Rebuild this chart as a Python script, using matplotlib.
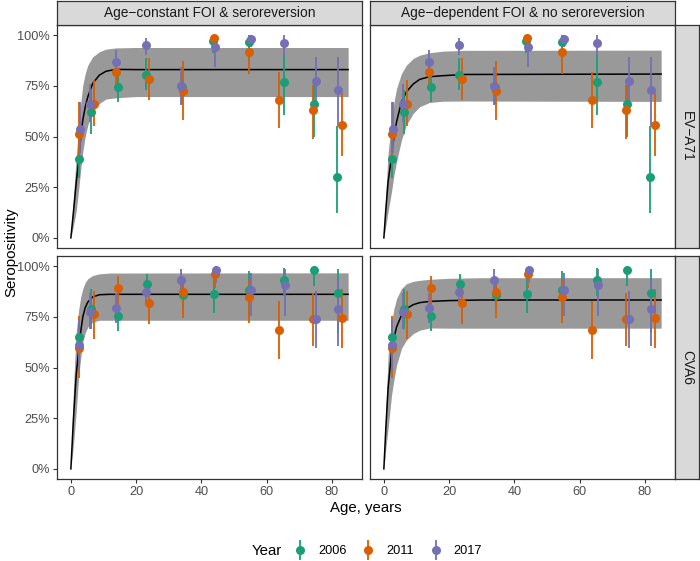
import numpy as np
import matplotlib
matplotlib.use("Agg")
import matplotlib.pyplot as plt
from matplotlib.lines import Line2D
from matplotlib.legend_handler import HandlerTuple
from matplotlib.ticker import FuncFormatter

plt.rcParams['font.family'] = ['Liberation Sans', 'DejaVu Sans']

years = ["2006", "2011", "2017"]
colors = ["#1B9E77", "#D95F02", "#7570B3"]
models = ["Age\u2212constant FOI & seroreversion", "Age\u2212dependent FOI & no seroreversion"]
viruses = ["EV\u2212A71", "CVA6"]

# observed seroprevalence: mean age, estimate, 95% CI (per year)
eva71_age = {
    "2006": [2.5, 6.1, 14.5, 23.1, 34.1, 43.5, 54.5, 65.3, 74.5, 81.7],
    "2011": [2.5, 7.1, 13.9, 23.9, 34.3, 43.8, 54.7, 63.8, 74.3, 83.0],
    "2017": [2.8, 5.9, 13.9, 23.1, 33.9, 44.3, 55.2, 65.4, 75.0, 81.9],
}
eva71_est = {
    "2006": [0.389, 0.62, 0.743, 0.803, 0.743, 0.97, 0.967, 0.767, 0.66, 0.298],
    "2011": [0.511, 0.66, 0.82, 0.784, 0.726, 0.984, 0.915, 0.68, 0.631, 0.557],
    "2017": [0.538, 0.66, 0.866, 0.951, 0.749, 0.943, 0.979, 0.962, 0.774, 0.73],
}
eva71_lo = {
    "2006": [0.295, 0.51, 0.672, 0.73, 0.66, 0.91, 0.877, 0.607, 0.50, 0.123],
    "2011": [0.41, 0.55, 0.754, 0.68, 0.58, 0.94, 0.81, 0.541, 0.49, 0.402],
    "2017": [0.42, 0.57, 0.795, 0.90, 0.656, 0.844, 0.94, 0.90, 0.648, 0.55],
}
eva71_hi = {
    "2006": [0.48, 0.73, 0.80, 0.885, 0.82, 1.0, 1.0, 0.90, 0.78, 0.55],
    "2011": [0.67, 0.78, 0.885, 0.885, 0.87, 1.0, 0.97, 0.82, 0.754, 0.713],
    "2017": [0.67, 0.76, 0.926, 0.984, 0.844, 0.99, 1.0, 1.0, 0.893, 0.893],
}

cva6_age = {
    "2006": [2.6, 6.1, 14.6, 23.2, 34.3, 43.8, 54.5, 65.4, 74.6, 81.8],
    "2011": [2.6, 7.1, 14.3, 24.0, 34.3, 44.1, 54.7, 63.7, 74.1, 83.1],
    "2017": [2.6, 5.9, 13.9, 23.1, 33.8, 44.5, 55.3, 65.5, 75.2, 82.0],
}
cva6_est = {
    "2006": [0.648, 0.787, 0.754, 0.913, 0.857, 0.864, 0.882, 0.931, 0.979, 0.869],
    "2011": [0.595, 0.762, 0.893, 0.82, 0.872, 0.959, 0.849, 0.684, 0.741, 0.746],
    "2017": [0.611, 0.774, 0.795, 0.874, 0.931, 0.979, 0.88, 0.907, 0.741, 0.79],
}
cva6_lo = {
    "2006": [0.59, 0.69, 0.68, 0.852, 0.80, 0.77, 0.762, 0.852, 0.90, 0.672],
    "2011": [0.45, 0.64, 0.81, 0.713, 0.746, 0.893, 0.72, 0.541, 0.607, 0.598],
    "2017": [0.49, 0.69, 0.72, 0.811, 0.877, 0.918, 0.754, 0.754, 0.598, 0.607],
}
cva6_hi = {
    "2006": [0.74, 0.885, 0.828, 0.962, 0.918, 0.951, 0.975, 0.99, 1.0, 0.984],
    "2011": [0.754, 0.877, 0.951, 0.90, 0.943, 0.99, 0.934, 0.828, 0.869, 0.885],
    "2017": [0.74, 0.869, 0.869, 0.934, 0.984, 1.0, 0.967, 0.984, 0.877, 0.934],
}

# fitted curves (age, fit, lower, upper)
eva71_const_age = [0, 0.8, 1.63, 2.44, 3.05, 3.66, 4.4, 5.2, 6.7, 8.75, 10.8, 13.8, 20, 85]
eva71_const_fit = [0, 0.13, 0.27, 0.39, 0.50, 0.581, 0.645, 0.696, 0.762, 0.803, 0.822, 0.831, 0.83, 0.83]
eva71_const_lo = [0, 0.06, 0.13, 0.246, 0.34, 0.425, 0.50, 0.557, 0.622, 0.663, 0.685, 0.691, 0.697, 0.697]
eva71_const_hi = [0, 0.20, 0.40, 0.556, 0.67, 0.754, 0.81, 0.852, 0.893, 0.918, 0.931, 0.937, 0.939, 0.939]

eva71_agedep_age = [0, 0.6, 1.3, 2.35, 3.1, 3.9, 5.4, 6.9, 9.0, 11.0, 14.0, 18.1, 25, 85]
eva71_agedep_fit = [0, 0.14, 0.277, 0.40, 0.50, 0.573, 0.671, 0.72, 0.759, 0.782, 0.795, 0.80, 0.806, 0.808]
eva71_agedep_lo = [0, 0.06, 0.13, 0.228, 0.31, 0.376, 0.483, 0.557, 0.614, 0.647, 0.668, 0.674, 0.675, 0.673]
eva71_agedep_hi = [0, 0.22, 0.42, 0.573, 0.67, 0.737, 0.811, 0.852, 0.885, 0.901, 0.913, 0.921, 0.925, 0.926]

cva6_const_age = [0, 0.8, 1.63, 2.44, 3.05, 3.66, 4.4, 5.2, 6.7, 8.75, 12, 85]
cva6_const_fit = [0, 0.25, 0.462, 0.594, 0.68, 0.75, 0.795, 0.823, 0.848, 0.859, 0.861, 0.861]
cva6_const_lo = [0, 0.12, 0.28, 0.462, 0.55, 0.626, 0.67, 0.70, 0.724, 0.733, 0.733, 0.733]
cva6_const_hi = [0, 0.40, 0.675, 0.79, 0.85, 0.889, 0.92, 0.938, 0.954, 0.962, 0.966, 0.967]

cva6_agedep_age = [0, 0.6, 1.3, 2.35, 3.1, 3.9, 5.4, 6.9, 9.0, 11.0, 14.0, 20, 30, 85]
cva6_agedep_fit = [0, 0.2, 0.397, 0.577, 0.645, 0.70, 0.758, 0.79, 0.81, 0.82, 0.826, 0.83, 0.833, 0.833]
cva6_agedep_lo = [0, 0.1, 0.2, 0.364, 0.44, 0.512, 0.594, 0.635, 0.667, 0.684, 0.695, 0.694, 0.694, 0.694]
cva6_agedep_hi = [0, 0.3, 0.56, 0.725, 0.79, 0.84, 0.889, 0.913, 0.925, 0.93, 0.935, 0.94, 0.943, 0.943]

obs = {
    0: (eva71_age, eva71_est, eva71_lo, eva71_hi),
    1: (cva6_age, cva6_est, cva6_lo, cva6_hi),
}
fits = {
    (0, 0): (eva71_const_age, eva71_const_fit, eva71_const_lo, eva71_const_hi),
    (0, 1): (eva71_agedep_age, eva71_agedep_fit, eva71_agedep_lo, eva71_agedep_hi),
    (1, 0): (cva6_const_age, cva6_const_fit, cva6_const_lo, cva6_const_hi),
    (1, 1): (cva6_agedep_age, cva6_agedep_fit, cva6_agedep_lo, cva6_agedep_hi),
}

W, H = 700, 561
fig = plt.figure(figsize=(W / 100, H / 100), dpi=100)

col_x = [57, 370]
row_y = [25, 256]
pw, ph = 305, 223
edge = "#333333"
tick_col = "#4D4D4D"


def strip(rect, label, rot):
    sax = fig.add_axes(rect)
    sax.set_facecolor("#D9D9D9")
    sax.set_xticks([])
    sax.set_yticks([])
    for s in sax.spines.values():
        s.set_color(edge)
        s.set_linewidth(0.9)
    sax.text(0.5, 0.5, label, ha="center", va="center", fontsize=9.9,
             rotation=rot, color="#1A1A1A", transform=sax.transAxes)


for r in range(2):
    for c in range(2):
        ax = fig.add_axes([col_x[c] / W, 1 - (row_y[r] + ph) / H, pw / W, ph / H])
        a, f, lo, hi = fits[(r, c)]
        ax.fill_between(a, lo, hi, color="#999999", lw=0, zorder=1)
        ax.plot(a, f, color="black", lw=1.1, zorder=2)
        ages, est, elo, ehi = obs[r]
        for y, col in zip(years, colors):
            ax.vlines(ages[y], elo[y], ehi[y], color=col, lw=1.3, zorder=3)
            ax.plot(ages[y], est[y], "o", color=col, ms=6.5, mec="none", zorder=4)
        ax.set_xlim(-4.25, 89.25)
        ax.set_ylim(-0.05, 1.05)
        ax.set_xticks([0, 20, 40, 60, 80])
        ax.set_yticks([0, 0.25, 0.5, 0.75, 1.0])
        ax.yaxis.set_major_formatter(FuncFormatter(lambda v, p: f"{v * 100:.0f}%"))
        ax.tick_params(length=3, width=0.8, color=edge, labelcolor=tick_col, labelsize=9.2, pad=2)
        if r == 0:
            ax.tick_params(axis="x", bottom=False, labelbottom=False)
        if c == 1:
            ax.tick_params(axis="y", left=False, labelleft=False)
        for s in ax.spines.values():
            s.set_color(edge)
            s.set_linewidth(0.9)

        if r == 0:
            strip([col_x[c] / W, 1 - 25 / H, pw / W, 24 / H], models[c], 0)
        if c == 1:
            strip([675 / W, 1 - (row_y[r] + ph) / H, 24 / W, ph / H], viruses[r], -90)

fig.text(366 / W, 1 - 508 / H, "Age, years", ha="center", va="center", fontsize=10.8)
fig.text(11 / W, 1 - 252 / H, "Seropositivity", ha="center", va="center",
         rotation=90, fontsize=10.8)

# legend: pointrange keys
handles = []
for col in colors:
    vline = Line2D([], [], color=col, marker="|", ms=15, mew=1.3, ls="none")
    dot = Line2D([], [], color=col, marker="o", ms=6.5, mec="none", ls="none")
    handles.append((vline, dot))
fig.legend(handles, years, loc="center", bbox_to_anchor=(388 / W, 1 - 551 / H),
           ncol=3, frameon=False, fontsize=9.2,
           handler_map={tuple: HandlerTuple(ndivide=1, pad=0)},
           handlelength=1.0, columnspacing=1.2, handletextpad=0.9,
           borderpad=0, borderaxespad=0)
fig.text(252 / W, 1 - 551 / H, "Year", ha="left", va="center", fontsize=10.8)

fig.savefig("out.png", dpi=100)
